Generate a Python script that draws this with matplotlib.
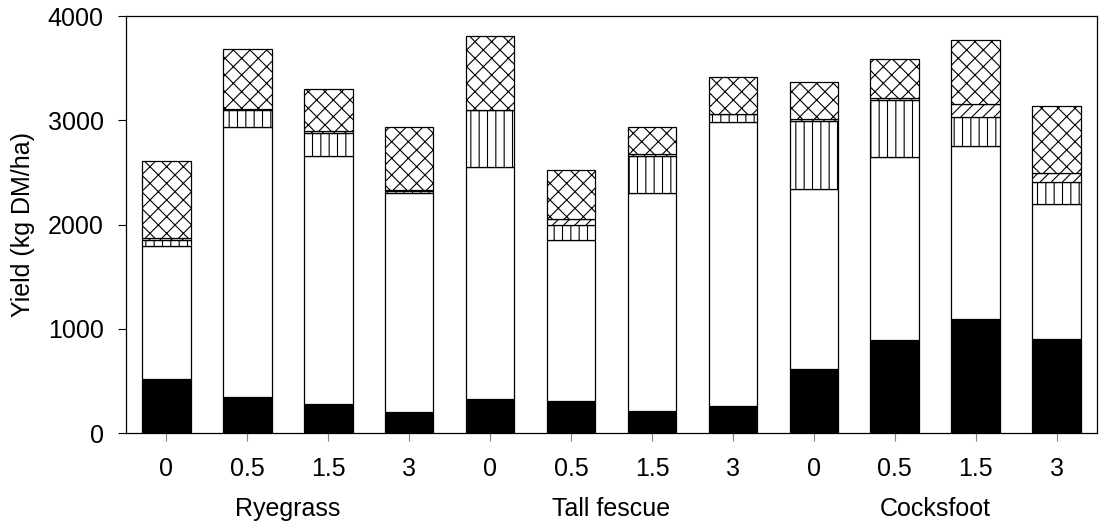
import matplotlib
matplotlib.use("Agg")
import matplotlib.pyplot as plt
import numpy as np

plt.rcParams['font.family'] = ['Liberation Sans', 'DejaVu Sans']
plt.rcParams['hatch.linewidth'] = 0.8

# x categories (rate) and grass species groups
rates = ["0", "0.5", "1.5", "3", "0", "0.5", "1.5", "3", "0", "0.5", "1.5", "3"]
groups = ["Ryegrass", "Tall fescue", "Cocksfoot"]

# stacked components, bottom to top (kg DM/ha)
solid = [518, 345, 278, 201, 326, 307, 211, 259, 614, 892, 1090, 900]
open_part = [1275, 2593, 2378, 2098, 2222, 1544, 2094, 2721, 1723, 1758, 1660, 1293]
vertical = [58, 160, 218, 19, 550, 144, 351, 76, 655, 543, 280, 217]
diagonal = [22, 10, 19, 12, 5, 54, 20, 5, 22, 17, 130, 86]
cross = [735, 572, 403, 608, 707, 476, 256, 351, 349, 373, 608, 640]

layers = [
    (solid, 'black', ''),
    (open_part, 'white', ''),
    (vertical, 'white', '||'),
    (diagonal, 'white', '///'),
    (cross, 'white', 'xx'),
]

fig = plt.figure(figsize=(11.04, 5.25), dpi=100)
ax = fig.add_axes([0.1141, 0.1752, 0.8796, 0.7943])

x = np.arange(len(rates))
bottom = np.zeros(len(rates))
for vals, col, hatch in layers:
    vals = np.array(vals, dtype=float)
    ax.bar(x, vals, 0.6, bottom=bottom, color=col, edgecolor='black',
           hatch=hatch, linewidth=0.9)
    bottom += vals

ax.set_xlim(-0.5, len(rates) - 0.5)
ax.set_ylim(0, 4000)
ax.set_yticks([0, 1000, 2000, 3000, 4000])
ax.set_xticks(x)
ax.set_xticklabels(rates)
ax.tick_params(axis='both', labelsize=18, direction='out', length=6, width=0.8)
ax.tick_params(axis='x', pad=11, color='gray')
ax.tick_params(axis='y', pad=10)
ax.set_ylabel("Yield (kg DM/ha)", fontsize=18, labelpad=9)

for sp in ax.spines.values():
    sp.set_linewidth(0.9)

for i, g in enumerate(groups):
    ax.annotate(g, xy=(4 * i + 1.5, -0.182), xycoords=('data', 'axes fraction'),
                ha='center', va='center', fontsize=18)

fig.savefig("out.png", dpi=100)
